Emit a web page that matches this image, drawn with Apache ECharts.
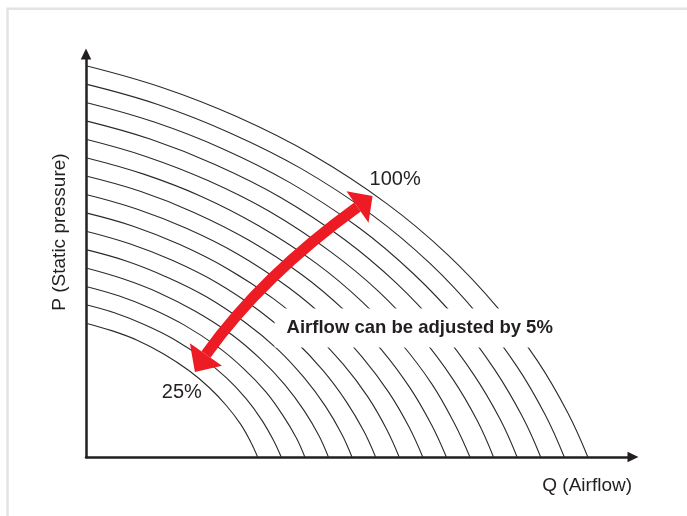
<!DOCTYPE html>
<html><head><meta charset="utf-8">
<script src="https://cdn.jsdelivr.net/npm/echarts@6/dist/echarts.min.js"></script>
<style>html,body{margin:0;padding:0;background:#fff}#c{width:687px;height:516px}</style>
</head><body><div id="c"></div>
<script>
// Fan curves (Q = airflow, P = static pressure), outermost (100%) first
const curve1  = [[0,100],[15,94.5],[30,87.0],[45,77.3],[60,64.7],[72,51.8],[82,38.2],[90,24.5],[96,11.3],[100,0]];
const curve2  = [[0,95.3],[14.3,90.1],[28.6,82.9],[42.9,73.7],[57.2,61.7],[68.6,49.4],[78.1,36.4],[85.8,23.3],[91.5,10.8],[95.3,0]];
const curve3  = [[0,90.6],[13.6,85.6],[27.2,78.8],[40.8,70.0],[54.4,58.6],[65.2,46.9],[74.3,34.6],[81.5,22.2],[87.0,10.2],[90.6,0]];
const curve4  = [[0,85.9],[12.9,81.2],[25.8,74.7],[38.7,66.4],[51.5,55.6],[61.8,44.5],[70.4,32.8],[77.3,21.0],[82.5,9.7],[85.9,0]];
const curve5  = [[0,81.2],[12.2,76.7],[24.4,70.6],[36.5,62.8],[48.7,52.5],[58.5,42.1],[66.6,31.0],[73.1,19.9],[78.0,9.2],[81.2,0]];
const curve6  = [[0,76.5],[11.5,72.3],[23.0,66.6],[34.4,59.1],[45.9,49.5],[55.1,39.6],[62.7,29.2],[68.9,18.7],[73.4,8.6],[76.5,0]];
const curve7  = [[0,71.8],[10.8,67.9],[21.5,62.5],[32.3,55.5],[43.1,46.5],[51.7,37.2],[58.9,27.4],[64.6,17.6],[68.9,8.1],[71.8,0]];
const curve8  = [[0,67.1],[10.1,63.4],[20.1,58.4],[30.2,51.9],[40.3,43.4],[48.3,34.8],[55.0,25.6],[60.4,16.4],[64.4,7.6],[67.1,0]];
const curve9  = [[0,62.4],[9.4,59.0],[18.7,54.3],[28.1,48.2],[37.4,40.4],[44.9,32.3],[51.2,23.8],[56.2,15.3],[59.9,7.1],[62.4,0]];
const curve10 = [[0,57.7],[8.7,54.5],[17.3,50.2],[26.0,44.6],[34.6,37.3],[41.5,29.9],[47.3,22.0],[51.9,14.1],[55.4,6.5],[57.7,0]];
const curve11 = [[0,53.0],[8.0,50.1],[15.9,46.1],[23.9,41.0],[31.8,34.3],[38.2,27.5],[43.5,20.2],[47.7,13.0],[50.9,6.0],[53.0,0]];
const curve12 = [[0,48.3],[7.2,45.6],[14.5,42.0],[21.7,37.3],[29.0,31.3],[34.8,25.0],[39.6,18.5],[43.5,11.8],[46.4,5.5],[48.3,0]];
const curve13 = [[0,43.6],[6.5,41.2],[13.1,37.9],[19.6,33.7],[26.2,28.2],[31.4,22.6],[35.8,16.7],[39.2,10.7],[41.9,4.9],[43.6,0]];
const curve14 = [[0,38.9],[5.8,36.8],[11.7,33.8],[17.5,30.1],[23.3,25.2],[28.0,20.2],[31.9,14.9],[35.0,9.5],[37.3,4.4],[38.9,0]];
const curve15 = [[0,34.2],[5.1,32.3],[10.3,29.8],[15.4,26.4],[20.5,22.1],[24.6,17.7],[28.0,13.1],[30.8,8.4],[32.8,3.9],[34.2,0]];

// Annotation (data units)
const arrowShaft = [[23.9,26.2],[35.1,46.3],[54.1,63.9]];
const arrowHeadLow = [[21.7,21.7],[20.7,29.1],[27.1,23.3]];
const arrowHeadHigh = [[57.1,66.7],[51.9,67.9],[56.3,59.9]];
const labelHigh = {text:'100%', at:[61.6,71.0]};
const labelLow = {text:'25%', at:[19.1,16.6]};
const noteLabel = {text:'Airflow can be adjusted by 5%', at:[66.7,33.0]};
const xName = {text:'Q (Airflow)', at:[108.8,-7.4]};
const yName = {text:'P (Static pressure)', at:[-5.2,57.5]};

const curves = [curve1,curve2,curve3,curve4,curve5,curve6,curve7,curve8,curve9,curve10,curve11,curve12,curve13,curve14,curve15];
const ink = '#231f20';
const red = '#ed1c24';
const font = '"Liberation Sans", Arial, Helvetica, sans-serif';

const chart = echarts.init(document.getElementById('c'), null, {renderer:'canvas'});
const axisCommon = {
  type:'value', min:0,
  axisLine:{show:true, symbol:['none','triangle'], symbolSize:[10.5,11], lineStyle:{color:ink, width:2.5}},
  axisTick:{show:false}, axisLabel:{show:false}, splitLine:{show:false}
};
chart.setOption({
  animation:false,
  backgroundColor:'#fff',
  grid:{left:86, top:54, width:547, height:403},
  xAxis:Object.assign({}, axisCommon, {max:109}),
  yAxis:Object.assign({}, axisCommon, {max:103}),
  series:curves.map(d => ({
    type:'line', data:d, smooth:0.4, symbol:'none', silent:true, z:2,
    lineStyle:{color:'#2b2b2b', width:1.1}
  }))
});

const px = p => chart.convertToPixel({gridIndex:0}, p);
const s0 = px(arrowShaft[0]), s1 = px(arrowShaft[1]), s2 = px(arrowShaft[2]);
const yn = px(yName.at), xn = px(xName.at), nl = px(noteLabel.at), lh = px(labelHigh.at), ll = px(labelLow.at);

chart.setOption({
  graphic:[
    {type:'rect', silent:true, z:1, shape:{x:7.5, y:8.7, width:720, height:560},
      style:{fill:'none', stroke:'#e4e4e4', lineWidth:2.5}},
    {type:'text', z:50, x:nl[0], y:nl[1], style:{text:noteLabel.text, fill:ink, font:'bold 18.5px ' + font,
      align:'center', verticalAlign:'middle', backgroundColor:'#fff', padding:[10,14,10,12]}},
    {type:'bezierCurve', z:60, shape:{x1:s0[0], y1:s0[1], cpx1:s1[0], cpy1:s1[1], x2:s2[0], y2:s2[1]},
      style:{fill:'none', stroke:red, lineWidth:11}},
    {type:'polygon', z:61, shape:{points:arrowHeadLow.map(px)}, style:{fill:red}},
    {type:'polygon', z:61, shape:{points:arrowHeadHigh.map(px)}, style:{fill:red}},
    {type:'text', z:50, x:lh[0], y:lh[1], style:{text:labelHigh.text, fill:ink, font:'20px ' + font, align:'center', verticalAlign:'middle'}},
    {type:'text', z:50, x:ll[0], y:ll[1], style:{text:labelLow.text, fill:ink, font:'20px ' + font, align:'center', verticalAlign:'middle'}},
    {type:'text', z:50, x:xn[0], y:xn[1], style:{text:xName.text, fill:ink, font:'19px ' + font, align:'right', verticalAlign:'middle'}},
    {type:'text', z:50, x:yn[0], y:yn[1], rotation:Math.PI/2, style:{text:yName.text, fill:ink, font:'19px ' + font, align:'center', verticalAlign:'middle'}}
  ]
});
</script>
</body></html>
